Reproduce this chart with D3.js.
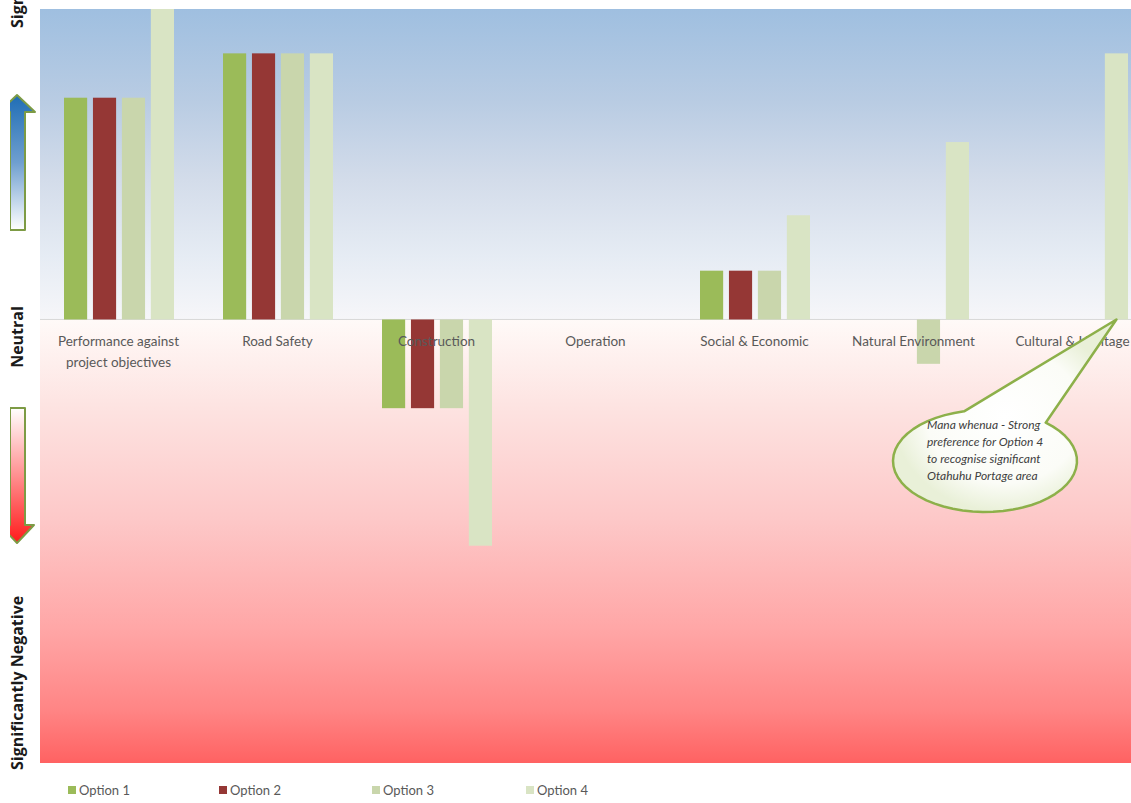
<!DOCTYPE html>
<html><head><meta charset="utf-8">
<script src="https://cdn.jsdelivr.net/npm/d3@7"></script>
<style>body{margin:0;background:#fff;overflow:hidden}svg{display:block}</style>
</head><body>
<svg id="c" width="1131" height="803"></svg>
<script>
const categories = ["Performance against|project objectives","Road Safety","Construction","Operation","Social & Economic","Natural Environment","Cultural & Heritage"];
const seriesNames = ["Option 1","Option 2","Option 3","Option 4"];
const option1 = [5, 6, -2, 0, 1.1, 0, 0];
const option2 = [5, 6, -2, 0, 1.1, 0, 0];
const option3 = [5, 6, -2, 0, 1.1, -1, 0];
const option4 = [7, 6, -5.1, 0, 2.35, 4, 6];
const colors = ["#9bbb59","#953735","#c9d6ac","#d9e4c4"];
const axisLabels = ["Significantly Positive","Neutral","Significantly Negative"];
const calloutLines = ["Mana whenua - Strong","preference for Option 4","to recognise significant","Otahuhu Portage area"];

const series = [option1, option2, option3, option4];
const svg = d3.select("#c");
const plot = {left:39, right:1152, top:9, bottom:763};

const y = d3.scaleLinear().domain([-10, 7]).range([plot.bottom, plot.top]);
const x0 = d3.scaleBand().domain(categories).range([plot.left, plot.right]);
const x1 = d3.scaleBand().domain(seriesNames).range([25, 135]).paddingInner(0.2).paddingOuter(0);

const defs = svg.append("defs");
const g1 = defs.append("linearGradient").attr("id","bgPos").attr("x1",0).attr("y1",0).attr("x2",0).attr("y2",1);
[[0,"#9fbfe0"],[0.3,"#b9cce3"],[0.55,"#d3dcea"],[0.8,"#e6ecf4"],[1,"#f6f6f9"]].forEach(s=>g1.append("stop").attr("offset",s[0]).attr("stop-color",s[1]));
const g2 = defs.append("linearGradient").attr("id","bgNeg").attr("x1",0).attr("y1",0).attr("x2",0).attr("y2",1);
[[0,"#fffaf8"],[0.2,"#fde3e1"],[0.45,"#fdc8c8"],[0.7,"#ffa6a6"],[0.88,"#ff8585"],[1,"#ff6262"]].forEach(s=>g2.append("stop").attr("offset",s[0]).attr("stop-color",s[1]));
const ga = defs.append("linearGradient").attr("id","arrUp").attr("x1",0).attr("y1",0).attr("x2",0).attr("y2",1);
[[0,"#1f6db5"],[0.5,"#6f9fcf"],[1,"#ffffff"]].forEach(s=>ga.append("stop").attr("offset",s[0]).attr("stop-color",s[1]));
const gd = defs.append("linearGradient").attr("id","arrDown").attr("x1",0).attr("y1",0).attr("x2",0).attr("y2",1);
[[0,"#ffffff"],[0.5,"#ff9090"],[1,"#ff1a1a"]].forEach(s=>gd.append("stop").attr("offset",s[0]).attr("stop-color",s[1]));
const gc = defs.append("radialGradient").attr("id","callFill");
[[0,"#ffffff"],[0.7,"#fbfcf7"],[1,"#e9f0d8"]].forEach(s=>gc.append("stop").attr("offset",s[0]).attr("stop-color",s[1]));
defs.append("clipPath").attr("id","arrClip").append("rect").attr("x",10).attr("y",0).attr("width",40).attr("height",803);

// background
svg.append("rect").attr("x",plot.left+1).attr("y",y(7)).attr("width",plot.right-plot.left).attr("height",y(0)-y(7)).attr("fill","url(#bgPos)");
svg.append("rect").attr("x",plot.left+1).attr("y",y(0)).attr("width",plot.right-plot.left).attr("height",y(-10)-y(0)).attr("fill","url(#bgNeg)");
svg.append("line").attr("x1",plot.left+1).attr("x2",plot.right).attr("y1",y(0)).attr("y2",y(0)).attr("stroke","#d8d8d8").attr("stroke-width",1);

// bars
const groups = svg.append("g").selectAll("g").data(categories).join("g")
  .attr("transform", d=>`translate(${x0(d)},0)`);
groups.selectAll("rect").data((d,i)=>series.map((s,j)=>({k:seriesNames[j], v:s[i], c:colors[j]})).filter(e=>e.v!==0))
  .join("rect")
  .attr("x", e=>x1(e.k)).attr("width", x1.bandwidth())
  .attr("y", e=>y(Math.max(0,e.v))).attr("height", e=>Math.abs(y(e.v)-y(0)))
  .attr("fill", e=>e.c);

// category labels
const lab = svg.append("g").attr("font-family","Lato, 'Open Sans', sans-serif").attr("font-size","13.5px").attr("fill","#595959").attr("text-anchor","middle");
categories.forEach(c=>{
  const lines = c.split("|");
  const t = lab.append("text").attr("x", x0(c)+x0.bandwidth()/2).attr("y", 346);
  lines.forEach((l,i)=>t.append("tspan").attr("x", x0(c)+x0.bandwidth()/2).attr("dy", i?21:0).text(l));
});

// arrows
const ag = svg.append("g").attr("clip-path","url(#arrClip)");
ag.append("path").attr("d","M10,230 L25,230 L25,112 L35,112 L17,95 L-1,112 L10,112 Z")
  .attr("fill","url(#arrUp)").attr("stroke","#7d9b45").attr("stroke-width",2).attr("stroke-linejoin","round");
ag.append("path").attr("d","M10,408 L25,408 L25,525 L34,525 L17,543 L0,525 L10,525 Z")
  .attr("fill","url(#arrDown)").attr("stroke","#7d9b45").attr("stroke-width",2).attr("stroke-linejoin","round");

// side labels
const side = svg.append("g").attr("font-family","'Open Sans', 'DejaVu Sans', sans-serif").attr("font-weight","bold").attr("font-size","16px").attr("fill","#1a1a1a");
side.append("text").attr("transform","translate(23,28) rotate(-90)").attr("text-anchor","start").text(axisLabels[0]);
side.append("text").attr("transform","translate(23,337) rotate(-90)").attr("text-anchor","middle").text(axisLabels[1]);
side.append("text").attr("transform","translate(23,770) rotate(-90)").attr("text-anchor","start").text(axisLabels[2]);

// callout
const tipX = x0(categories[6]) + x1("Option 4") + x1.bandwidth()/2;
const tipY = y(0);
const cx = 985, cy = 461, rx = 92, ry = 51;
const a1 = -1.8, a2 = -0.85;
const p1 = [cx+rx*Math.cos(a1), cy+ry*Math.sin(a1)];
const p2 = [cx+rx*Math.cos(a2), cy+ry*Math.sin(a2)];
const N = 48; let d = `M${p2[0]},${p2[1]} L${tipX},${tipY} L${p1[0]},${p1[1]}`;
for (let i=1;i<=N;i++){ const a = a1 - (2*Math.PI-(a2-a1))*i/N; d += ` L${cx+rx*Math.cos(a)},${cy+ry*Math.sin(a)}`; }
d += " Z";
svg.append("path").attr("d",d).attr("fill","url(#callFill)").attr("stroke","#8db04a").attr("stroke-width",2.5).attr("stroke-linejoin","round");
const ct = svg.append("text").attr("font-family","Lato, 'Open Sans', sans-serif").attr("font-style","italic").attr("font-size","12px").attr("fill","#404040");
calloutLines.forEach((l,i)=>ct.append("tspan").attr("x",927).attr("y",429+i*17).text(l));

// legend
const leg = svg.append("g").attr("font-family","Lato, 'Open Sans', sans-serif").attr("font-size","13px").attr("fill","#595959");
const legX = [68,219,372,526];
seriesNames.forEach((s,i)=>{
  leg.append("rect").attr("x",legX[i]).attr("y",786).attr("width",8).attr("height",8).attr("fill",colors[i]);
  leg.append("text").attr("x",legX[i]+11).attr("y",795).text(s);
});
</script>
</body></html>
